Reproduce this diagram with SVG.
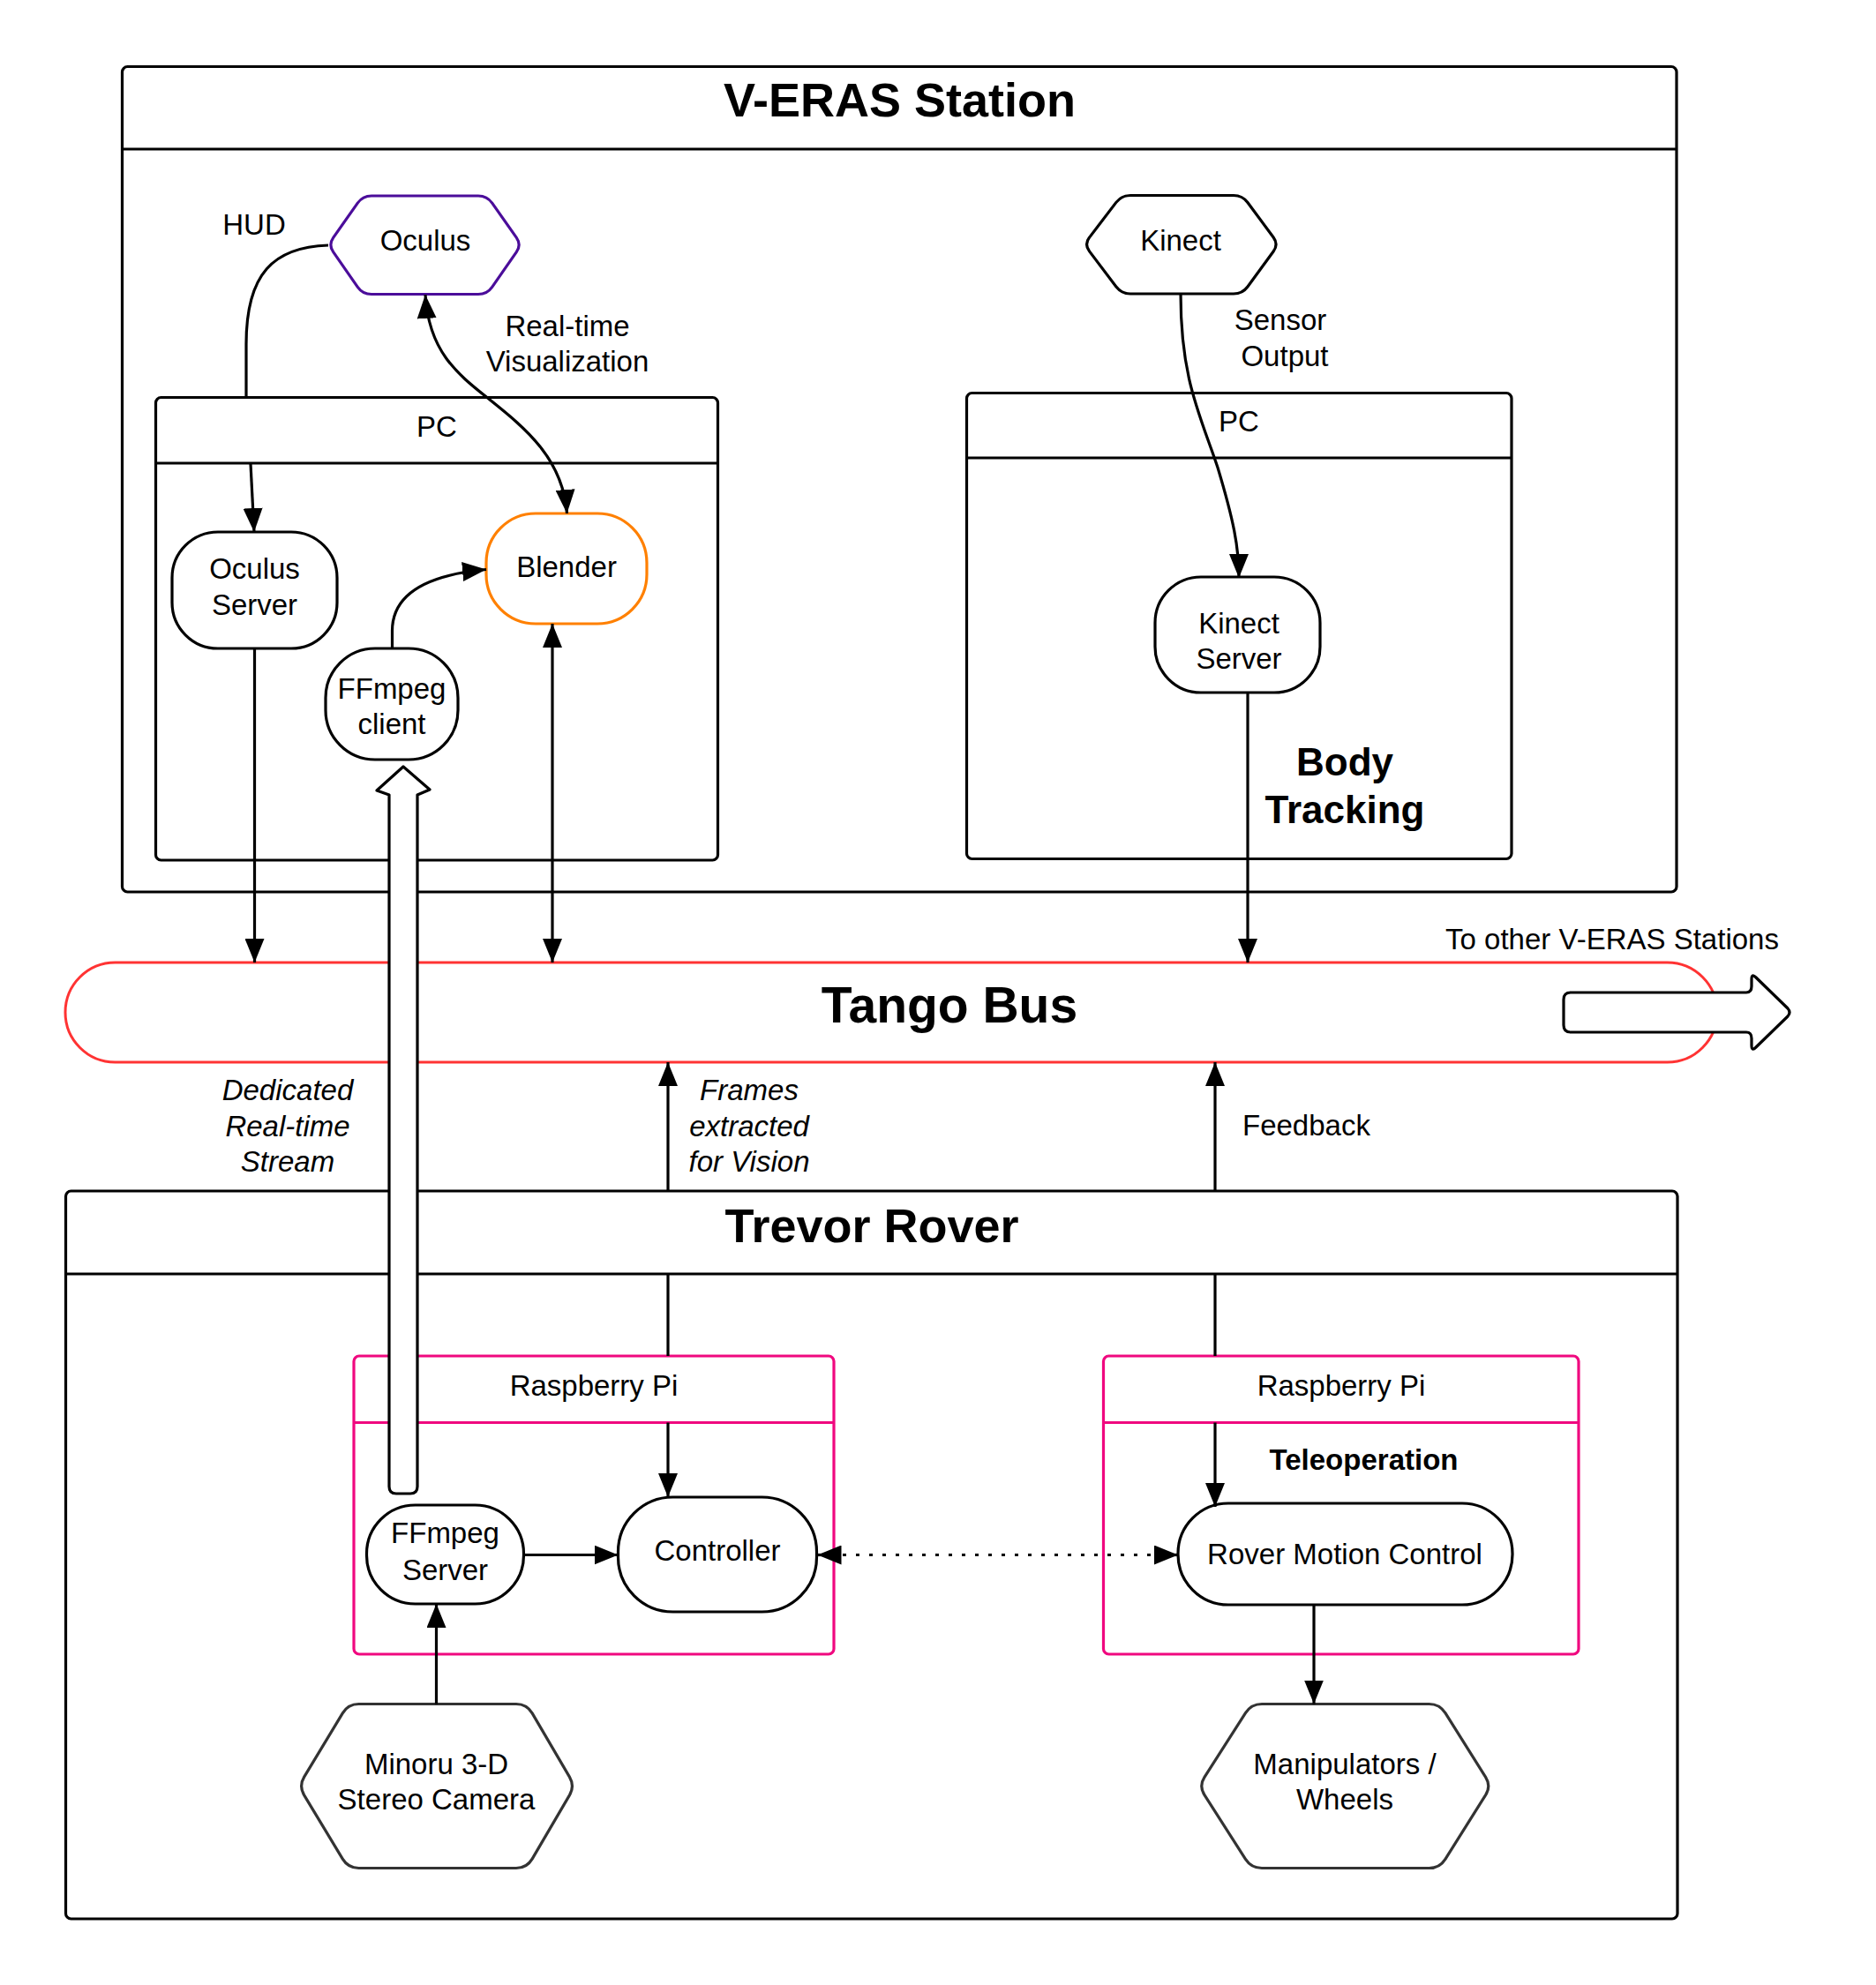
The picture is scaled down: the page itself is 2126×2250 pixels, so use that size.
<svg xmlns="http://www.w3.org/2000/svg" width="2126" height="2250" viewBox="0 0 2126 2250">
<style>
text{font-family:"Liberation Sans",Arial,sans-serif;font-size:33px;fill:#000;text-anchor:middle}
.b{font-weight:bold}
.i{font-style:italic}
.cont{fill:none;stroke:#000;stroke-width:3.2}
.pink{fill:none;stroke:#f0087f;stroke-width:3.2}
.node{fill:#fff;stroke:#000;stroke-width:3.2}
.hex{fill:#fff;stroke:#333;stroke-width:3.2}
.con{fill:none;stroke:#000;stroke-width:3.2}
.ea{marker-end:url(#ah)}
.ba{marker-start:url(#ah);marker-end:url(#ah)}
.blk{fill:#fff;stroke:#000;stroke-width:3.2;stroke-linejoin:round}
</style>
<defs>
<marker id="ah" markerUnits="userSpaceOnUse" markerWidth="28" markerHeight="22" refX="27" refY="11" orient="auto-start-reverse">
<path d="M0,0 L27,11 L0,22 Z" fill="#000"/>
</marker>
</defs>
<rect width="2126" height="2250" fill="#fff"/>

<g id="veras-station">
<rect class="cont" x="138.5" y="75.5" width="1761.5" height="935.5" rx="6"/>
<line class="cont" x1="138.5" y1="169" x2="1900" y2="169"/>
<text class="b" x="1019.5" y="132" style="font-size:54px">V-ERAS Station</text>
</g>

<g id="pc-left">
<rect class="cont" x="176.5" y="450.5" width="637" height="524.5" rx="6"/>
<line class="cont" x1="176.5" y1="525" x2="813.5" y2="525"/>
<text x="495" y="495">PC</text>
</g>

<g id="pc-right">
<rect class="cont" x="1095.5" y="445.5" width="617.5" height="528" rx="6"/>
<line class="cont" x1="1095.5" y1="519" x2="1713" y2="519"/>
<text x="1404" y="489">PC</text>
<text class="b" x="1524" y="879" style="font-size:44px">Body</text>
<text class="b" x="1524" y="933" style="font-size:44px">Tracking</text>
</g>

<g id="trevor-rover">
<rect class="cont" x="74.5" y="1350" width="1826.5" height="825" rx="6"/>
<line class="cont" x1="74.5" y1="1444" x2="1901" y2="1444"/>
<text class="b" x="988" y="1408" style="font-size:54px">Trevor Rover</text>
</g>

<g id="rpi-left">
<rect class="pink" x="401" y="1537" width="544" height="338" rx="6"/>
<line class="pink" x1="401" y1="1612.5" x2="945" y2="1612.5"/>
<text x="673" y="1582">Raspberry Pi</text>
</g>

<g id="rpi-right">
<rect class="pink" x="1250.5" y="1537" width="538.5" height="338" rx="6"/>
<line class="pink" x1="1250.5" y1="1612.5" x2="1789" y2="1612.5"/>
<text x="1520" y="1582">Raspberry Pi</text>
<text class="b" x="1545.5" y="1666">Teleoperation</text>
</g>

<g id="tango-bus">
<rect x="74" y="1091" width="1872" height="113" rx="56.5" fill="#fff" stroke="#ff3333" stroke-width="3"/>
<text class="b" x="1076" y="1159" style="font-size:57px">Tango Bus</text>
<text x="1827" y="1076">To other V-ERAS Stations</text>
</g>

<g id="oculus">
<path d="M377.7,269.3 L405.3,230.2 Q411,222 421,222 L542,222 Q552,222 557.7,230.2 L585.3,269.3 Q591,277.5 585.3,285.7 L557.7,325.3 Q552,333.5 542,333.5 L421,333.5 Q411,333.5 405.3,325.3 L377.7,285.7 Q372,277.5 377.7,269.3 Z" fill="#fff" stroke="#4b0d9a" stroke-width="3.2"/>
<text x="482" y="284">Oculus</text>
</g>

<g id="kinect">
<path d="M1234.6,269.1 L1264.9,229.4 Q1271,221.5 1281,221.5 L1398,221.5 Q1408,221.5 1413.9,229.5 L1443.1,269 Q1449,277 1443.1,285 L1413.9,325 Q1408,333 1398,333 L1281,333 Q1271,333 1264.9,325.1 L1234.6,284.9 Q1228.5,277 1234.6,269.1 Z" fill="#fff" stroke="#000" stroke-width="3.2"/>
<text x="1338" y="284">Kinect</text>
</g>

<g id="oculus-server">
<rect class="node" x="195" y="603" width="187" height="132" rx="52"/>
<text x="288.5" y="656">Oculus</text>
<text x="288.5" y="697">Server</text>
</g>

<g id="blender">
<rect x="551" y="582" width="182" height="125" rx="56" fill="#fff" stroke="#ff8000" stroke-width="3.2"/>
<text x="642" y="654">Blender</text>
</g>

<g id="ffmpeg-client">
<rect class="node" x="369" y="735" width="150" height="126" rx="56"/>
<text x="444" y="792">FFmpeg</text>
<text x="444" y="832">client</text>
</g>

<g id="kinect-server">
<rect class="node" x="1309" y="654" width="187" height="131" rx="52"/>
<text x="1404" y="718">Kinect</text>
<text x="1404" y="758">Server</text>
</g>

<g id="ffmpeg-server">
<rect class="node" x="415.5" y="1706" width="178" height="112" rx="55"/>
<text x="504.5" y="1749">FFmpeg</text>
<text x="504.5" y="1791">Server</text>
</g>

<g id="controller">
<rect class="node" x="700.5" y="1697" width="225" height="130" rx="62"/>
<text x="813" y="1769">Controller</text>
</g>

<g id="rover-motion-control">
<rect class="node" x="1335" y="1704" width="379" height="115" rx="57"/>
<text x="1524" y="1773">Rover Motion Control</text>
</g>

<g id="minoru-camera">
<path class="hex" d="M344.7,2014.2 L388.3,1941.8 Q394.5,1931.5 406.5,1931.5 L585,1931.5 Q597,1931.5 603.1,1941.9 L645.4,2014.1 Q651.5,2024.5 645.4,2034.9 L603.1,2107.1 Q597,2117.5 585,2117.5 L406.5,2117.5 Q394.5,2117.5 388.3,2107.2 L344.7,2034.8 Q338.5,2024.5 344.7,2014.2 Z"/>
<text x="494.5" y="2011">Minoru 3-D</text>
<text x="494.5" y="2051">Stereo Camera</text>
</g>

<g id="manipulators-wheels">
<path class="hex" d="M1365,2014.4 L1411.5,1941.6 Q1418,1931.5 1430,1931.5 L1619.5,1931.5 Q1631.5,1931.5 1637.9,1941.7 L1683.6,2014.3 Q1690,2024.5 1683.6,2034.7 L1637.9,2107.3 Q1631.5,2117.5 1619.5,2117.5 L1430,2117.5 Q1418,2117.5 1411.5,2107.4 L1365,2034.6 Q1358.5,2024.5 1365,2014.4 Z"/>
<text x="1524" y="2011">Manipulators /</text>
<text x="1524" y="2051">Wheels</text>
</g>

<g id="connectors">
<path class="con" d="M372,278 C310,280 279,310 279,390 L279,450"/>
<path class="con ea" d="M284,526 L288,603"/>
<text x="288" y="266">HUD</text>
<path class="con ea" d="M288.5,735 L288.5,1091"/>
<path class="con ba" d="M482,334 C486,400 520,425 555,453 C595,485 638,520 642.5,582"/>
<text x="643" y="381">Real-time</text>
<text x="643" y="421">Visualization</text>
<path class="con ea" d="M444.5,735 L444.5,715 C444.5,675 480,652 551,645.5"/>
<path class="con ba" d="M626,707 L626,1091"/>
<path class="con ea" d="M1338,333 C1338,430 1360,470 1380,530 C1398,590 1404,620 1404,655"/>
<text x="1451" y="374">Sensor</text>
<text x="1456" y="415">Output</text>
<path class="con ea" d="M1414,785 L1414,1091"/>
<path class="con ea" d="M757,1350 L757,1204"/>
<path class="con" d="M757,1444 L757,1537"/>
<path class="con ea" d="M757,1612.5 L757,1697"/>
<text class="i" x="849" y="1247">Frames</text>
<text class="i" x="849" y="1288">extracted</text>
<text class="i" x="849" y="1328">for Vision</text>
<text class="i" x="326" y="1247">Dedicated</text>
<text class="i" x="326" y="1288">Real-time</text>
<text class="i" x="326" y="1328">Stream</text>
<path class="con ea" d="M1377,1350 L1377,1204"/>
<path class="con" d="M1377,1444 L1377,1537"/>
<path class="con ea" d="M1377,1612.5 L1377,1708"/>
<text x="1408" y="1287" style="text-anchor:start">Feedback</text>
<path class="con ea" d="M593.5,1762.5 L700.5,1762.5"/>
<path class="con ea" d="M494.5,1931.5 L494.5,1818"/>
<path class="con" d="M955,1762.5 L1306,1762.5" stroke-width="4" stroke-dasharray="4 11"/>
<path class="con" d="M940,1762.5 L926.5,1762.5" marker-end="url(#ah)"/>
<path class="con" d="M1320,1762.5 L1335,1762.5" marker-end="url(#ah)"/>
<path class="con ea" d="M1489,1819 L1489,1931.5"/>
<path class="blk" d="M457,869 L487,895 L473,901 L473,1685 Q473,1693 465,1693 L449,1693 Q441,1693 441,1685 L441,901 L427,896 Z"/>
<path class="blk" d="M1780,1125 L1979,1125 Q1985,1125 1985,1118 L1985,1110 Q1985,1103 1990,1108 L2026,1143 Q2030,1147.5 2026,1152 L1990,1187 Q1985,1192 1985,1185 L1985,1177 Q1985,1170 1979,1170 L1780,1170 Q1772,1170 1772,1162 L1772,1133 Q1772,1125 1780,1125 Z"/>
</g>
</svg>
